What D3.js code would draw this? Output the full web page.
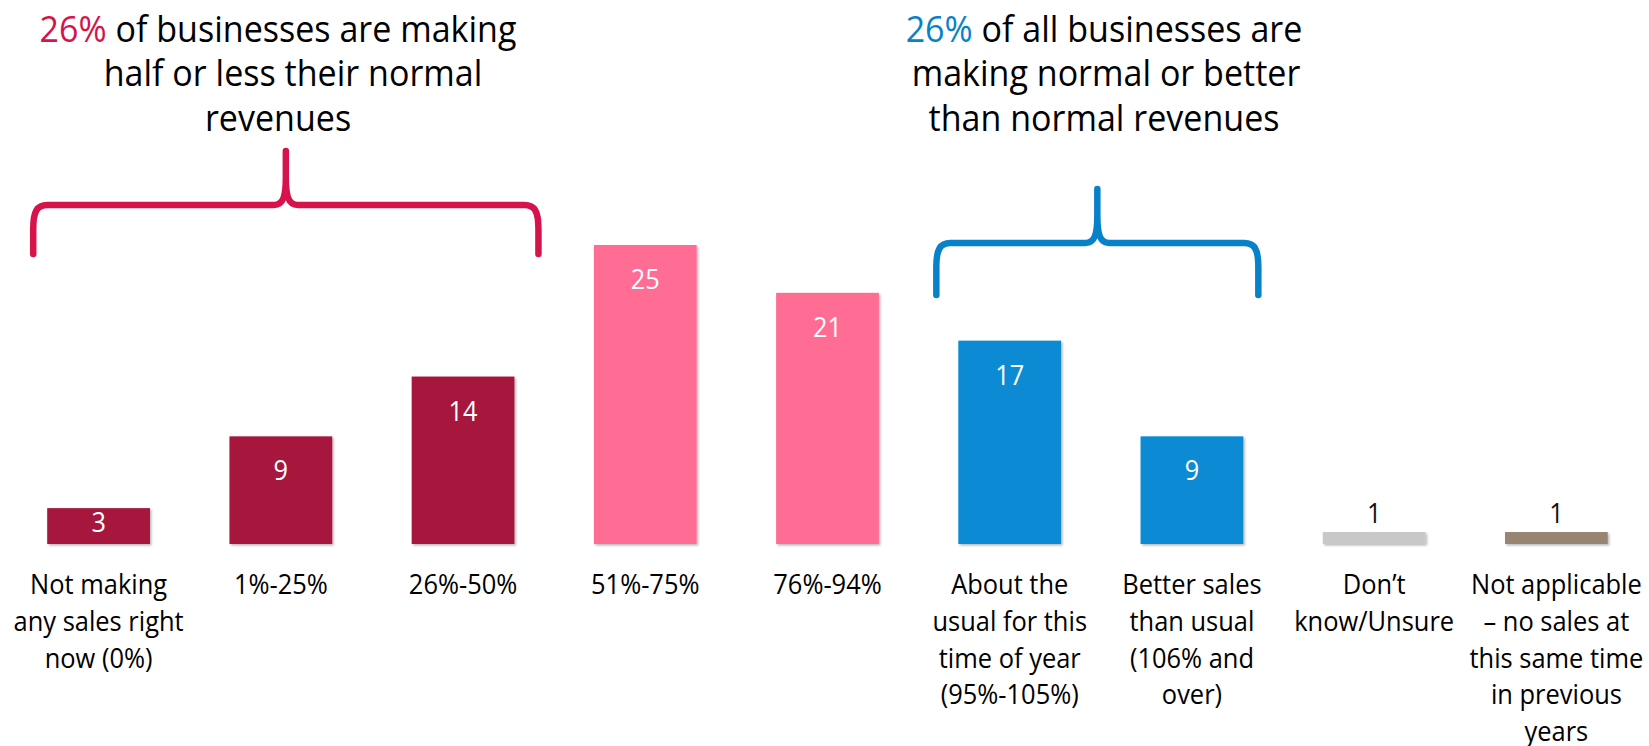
<!DOCTYPE html>
<html>
<head>
<meta charset="utf-8">
<script src="https://cdn.jsdelivr.net/npm/d3@7/dist/d3.min.js"></script>
<style>
  html, body { margin: 0; padding: 0; background: #ffffff; }
  svg { display: block; }
  text { font-family: "Open Sans", "Noto Sans", sans-serif; }
</style>
</head>
<body>
<svg id="chart" width="1649" height="746"></svg>
<script>
// ---------- data ----------
const categories = [
  ["Not making", "any sales right", "now (0%)"],
  ["1%-25%"],
  ["26%-50%"],
  ["51%-75%"],
  ["76%-94%"],
  ["About the", "usual for this", "time of year", "(95%-105%)"],
  ["Better sales", "than usual", "(106% and", "over)"],
  ["Don\u2019t", "know/Unsure"],
  ["Not applicable", "\u2013 no sales at", "this same time", "in previous", "years"]
];
const values = [3, 9, 14, 25, 21, 17, 9, 1, 1];
const barColors = ["#A6153D", "#A6153D", "#A6153D", "#FF6D95", "#FF6D95",
                   "#0A8AD4", "#0A8AD4", "#C8C8C8", "#978572"];
const labelInside = [true, true, true, true, true, true, true, false, false];

const redNote = { pct: "26%", lines: ["of businesses are making", "half or less their normal", "revenues"], from: 0, to: 2 };
const blueNote = { pct: "26%", lines: ["of all businesses are", "making normal or better", "than normal revenues"], from: 5, to: 6 };

// ---------- layout ----------
const W = 1649, H = 746;
const SX_TITLE = 0.92, SX_LABEL = 0.96, SX_VAL = 0.92;
const svg = d3.select("#chart");

const defs = svg.append("defs");
const f = defs.append("filter").attr("id", "shadow")
  .attr("x", "-10%").attr("y", "-10%").attr("width", "130%").attr("height", "130%");
f.append("feDropShadow").attr("dx", 1.5).attr("dy", 1.5).attr("stdDeviation", 1.2)
  .attr("flood-color", "#000").attr("flood-opacity", 0.28);

const x = d3.scaleBand()
  .domain(d3.range(categories.length))
  .range([7.5, 1647.5])
  .paddingInner(0.436)
  .paddingOuter(0.218);

const y = d3.scaleLinear().domain([0, 25]).range([544, 245]);

// bars
svg.append("g").selectAll("rect")
  .data(values)
  .join("rect")
  .attr("x", (d, i) => x(i))
  .attr("y", d => y(d))
  .attr("width", x.bandwidth())
  .attr("height", d => y(0) - y(d))
  .attr("fill", (d, i) => barColors[i])
  .attr("filter", "url(#shadow)");

// value labels
svg.append("g").selectAll("text")
  .data(values)
  .join("text")
  .attr("transform", (d, i) => {
    const cx = x(i) + x.bandwidth() / 2;
    const by = labelInside[i] ? Math.min(y(d) + 44, y(0) - 12.5) : y(d) - 9;
    return `translate(${cx},${by}) scale(${SX_VAL},1)`;
  })
  .attr("text-anchor", "middle")
  .attr("font-size", 27.5)
  .attr("fill", (d, i) => labelInside[i] ? "#ffffff" : "#111111")
  .text(d => d);

// category labels
const catG = svg.append("g");
categories.forEach((lines, i) => {
  const cx = x(i) + x.bandwidth() / 2;
  lines.forEach((ln, j) => {
    catG.append("text")
      .attr("transform", `translate(${cx},${594 + j * 36.8}) scale(${SX_LABEL},1)`)
      .attr("text-anchor", "middle")
      .attr("font-size", 26.5)
      .attr("fill", "#000")
      .text(ln);
  });
});

// braces
function brace(xL, xR, yH, yTop, yBot, color) {
  const xM = (xL + xR) / 2;
  const p = d3.path();
  p.moveTo(xL, yBot);
  p.lineTo(xL, yH + 24);
  p.bezierCurveTo(xL, yH + 6, xL + 4, yH, xL + 14, yH);
  p.lineTo(xM - 12, yH);
  p.bezierCurveTo(xM - 2, yH, xM, yH - 10, xM, yH - 28);
  p.lineTo(xM, yTop);
  p.moveTo(xM, yH - 28);
  p.bezierCurveTo(xM, yH - 10, xM + 2, yH, xM + 12, yH);
  p.lineTo(xR - 14, yH);
  p.bezierCurveTo(xR - 4, yH, xR, yH + 6, xR, yH + 24);
  p.lineTo(xR, yBot);
  svg.append("path")
    .attr("d", p.toString())
    .attr("fill", "none")
    .attr("stroke", color)
    .attr("stroke-width", 6.5)
    .attr("stroke-linecap", "round")
    .attr("stroke-linejoin", "round");
}
brace(x(redNote.from) - 14, x(redNote.to) + x.bandwidth() + 24, 205, 151, 254, "#D6134A");
brace(x(blueNote.from) - 22, x(blueNote.to) + x.bandwidth() + 15, 243, 189, 295, "#0782C8");

// annotation titles
function note(n, cx, pctColor, lineDx) {
  n.lines.forEach((ln, j) => {
    const t = svg.append("text")
      .attr("transform", `translate(${cx + (lineDx[j] || 0)},${42 + j * 44.3}) scale(${SX_TITLE},1)`)
      .attr("text-anchor", "middle")
      .attr("font-size", 37)
      .attr("fill", "#000");
    if (j === 0) {
      t.append("tspan").attr("fill", pctColor).text(n.pct + " ");
    }
    t.append("tspan").text(ln);
  });
}
note(redNote, 278, "#D6134A", [0, 15, 0]);
note(blueNote, 1104, "#0782C8", [0, 2, 0]);
</script>
</body>
</html>
